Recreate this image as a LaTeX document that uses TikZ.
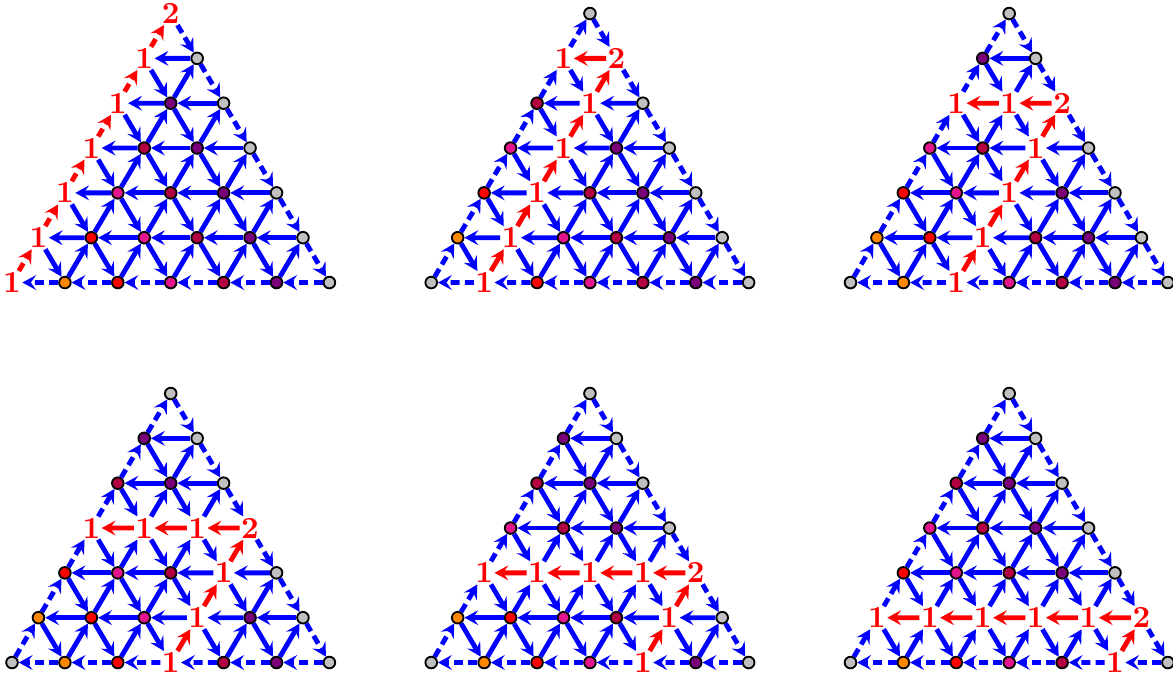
\documentclass[tikz,border=0pt]{standalone}
\usetikzlibrary{arrows.meta}

\definecolor{c0}{RGB}{192,192,192}
\definecolor{c1}{RGB}{255,136,0}
\definecolor{c2}{RGB}{255,0,0}
\definecolor{c3}{RGB}{228,20,140}
\definecolor{c4}{RGB}{178,0,64}
\definecolor{c5}{RGB}{122,0,122}
\definecolor{c6}{RGB}{192,192,192}

% one arrow of the quiver: #1 red?, #2 on the boundary?, #3 from, #4 to
\newcommand\qarrow[4]{%
  \ifnum#1=1 \def\qcol{red}\else\def\qcol{blue}\fi
  \ifnum#2=1 \draw[quiv=\qcol, bdry] (#3) -- (#4);%
  \else \draw[quiv=\qcol] (#3) -- (#4);\fi}

\begin{document}
\begin{tikzpicture}[
    dot/.style={circle, draw=black, line width=1pt, minimum size=0.22cm, inner sep=0pt},
    wt/.style={text=red, inner sep=0.3pt, font=\normalsize\bfseries, scale=1.65},
    quiv/.style={draw=#1, line width=2.6pt, -{Stealth[length=2.6mm, width=2.8mm, inset=1mm]}},
    bdry/.style={dash pattern=on 0.17cm off 0.1cm}
  ]
  \useasboundingbox (0,0) rectangle (22.174,12.84);
  \foreach \k in {0,...,5}{
    \pgfmathsetmacro\xo{0.227+7.925*mod(\k,3)}
    \pgfmathsetmacro\yo{\k<3 ? 7.499 : 0.316}
    \pgfmathtruncatemacro\rw{6-\k}
    \begin{scope}[shift={(\xo,\yo)}]
      % vertices: dots, or the red weights along the path
      \foreach \j in {0,...,6}{
        \pgfmathtruncatemacro\imax{6-\j}
        \foreach \i in {0,...,\imax}{
          \pgfmathtruncatemacro\sm{\i+\j}
          \pgfmathtruncatemacro\islab{((\i==\k)&&(\j<=\rw))||((\j==\rw)&&(\i<=\k))}
          \ifnum\islab=1
            \node[wt] (t\k-\i-\j) at (\i+\j/2, \j*0.8475) {\ifnum\sm=6 2\else 1\fi};
          \else
            \node[dot, fill=c\sm] (t\k-\i-\j) at (\i+\j/2, \j*0.8475) {};
          \fi
        }
      }
      % arrows
      \foreach \j in {0,...,5}{
        \pgfmathtruncatemacro\imax{5-\j}
        \pgfmathtruncatemacro\jp{\j+1}
        \foreach \i in {0,...,\imax}{
          \pgfmathtruncatemacro\ip{\i+1}
          % leftwards
          \pgfmathtruncatemacro\isred{(\j==\rw)&&(\i<\k)}
          \pgfmathtruncatemacro\isbd{\j==0}
          \qarrow{\isred}{\isbd}{t\k-\ip-\j}{t\k-\i-\j}
          % up and right
          \pgfmathtruncatemacro\isred{(\i==\k)&&(\j<\rw)}
          \pgfmathtruncatemacro\isbd{\i==0}
          \qarrow{\isred}{\isbd}{t\k-\i-\j}{t\k-\i-\jp}
          % down and right
          \pgfmathtruncatemacro\isbd{\i+\j==5}
          \qarrow{0}{\isbd}{t\k-\i-\jp}{t\k-\ip-\j}
        }
      }
    \end{scope}
  }
\end{tikzpicture}
\end{document}
